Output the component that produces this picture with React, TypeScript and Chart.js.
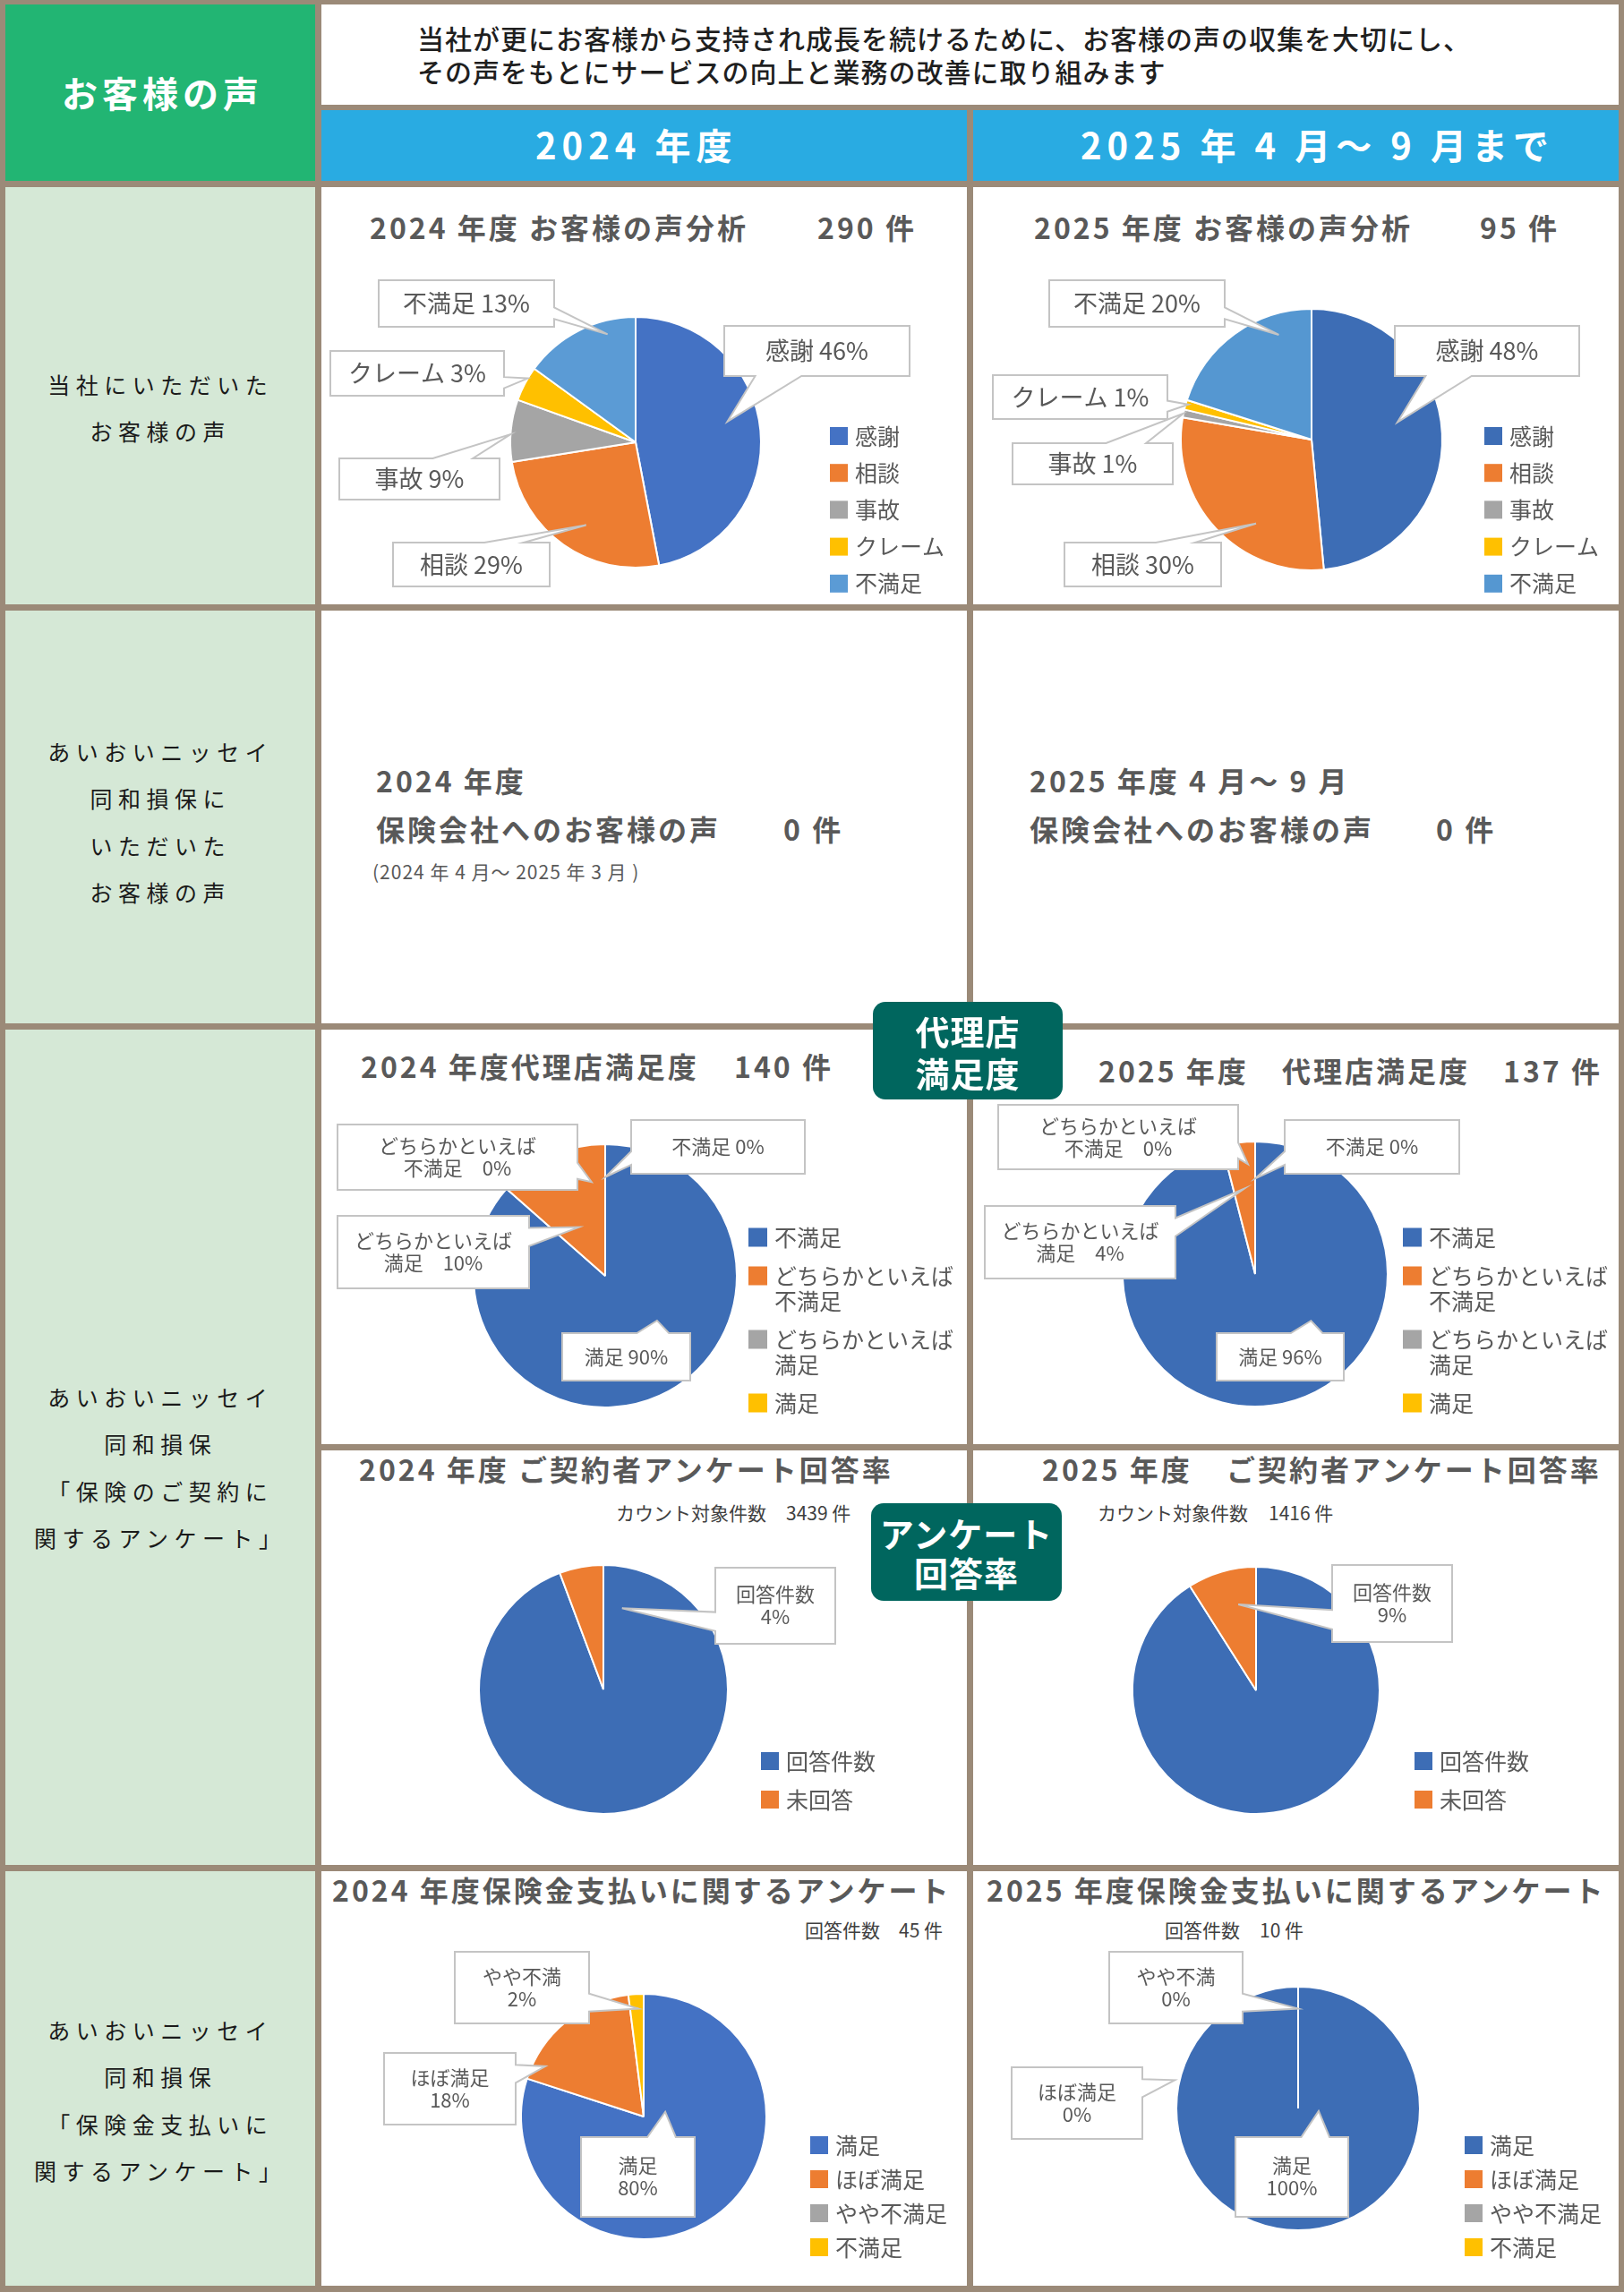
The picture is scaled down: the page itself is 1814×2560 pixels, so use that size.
import React, { useEffect, useRef } from "react";
import { Chart, registerables } from "chart.js";
Chart.register(...registerables);

const FONT = '"Noto Sans CJK JP", "Noto Sans CJK SC", sans-serif';

// ---------------- DATA ----------------
const voiceLabels = ["感謝", "相談", "事故", "クレーム", "不満足"];
const voice2024 = [47, 25.5, 8, 4.5, 15];
const voice2025 = [48.5, 29.2, 1, 1.2, 20.1];
const voice2024Notes = ["感謝 46%", "相談 29%", "事故 9%", "クレーム 3%", "不満足 13%"];
const voice2025Notes = ["感謝 48%", "相談 30%", "事故 1%", "クレーム 1%", "不満足 20%"];

const agencyLabels = ["不満足", "どちらかといえば不満足", "どちらかといえば満足", "満足"];
const agency2024 = [86.5, 13.5, 0, 0];
const agency2025 = [96, 4, 0, 0];
const agency2024Notes = ["満足 90%", "どちらかといえば\n満足　10%", "どちらかといえば\n不満足　0%", "不満足 0%"];
const agency2025Notes = ["満足 96%", "どちらかといえば\n満足　4%", "どちらかといえば\n不満足　0%", "不満足 0%"];

const surveyLabels = ["回答件数", "未回答"];
const survey2024 = [94.3, 5.7];
const survey2025 = [91, 9];
const survey2024Notes = ["回答件数\n4%"];
const survey2025Notes = ["回答件数\n9%"];

const payLabels = ["満足", "ほぼ満足", "やや不満足", "不満足"];
const pay2024 = [80, 18, 0, 2];
const pay2025 = [100, 0, 0, 0];
const pay2024Notes = ["やや不満\n2%", "ほぼ満足\n18%", "満足\n80%"];
const pay2025Notes = ["やや不満\n0%", "ほぼ満足\n0%", "満足\n100%"];

// ---------------- STYLE / LAYOUT ----------------
const C1 = ["#4472c4", "#ed7d31", "#a5a5a5", "#ffc000", "#5b9bd5"];
const C2 = ["#3d6db5", "#ed7d31", "#a5a5a5", "#ffc000", "#5597d1"];
const C4 = ["#3d6db5", "#ed7d31", "#a5a5a5", "#ffc000"];
const C4b = ["#4472c4", "#ed7d31", "#a5a5a5", "#ffc000"];

type NoteLayout = { box: number[]; idx: number; t: number; rf: number };
type PieSpec = {
  cell: number[];
  cx: number; cy: number; r: number;
  labels: string[]; values: number[]; colors: string[];
  notes: string[]; noteLayout: NoteLayout[]; noteFont: number; noteLine: number;
  legend: { x: number; y: number; step: number; lineH: number; font: number; maxW: number; sq: number };
};

const COLX = [359, 1087];
const CW = 721;

const specs: PieSpec[] = [
  {
    cell: [COLX[0], 209, CW, 466], cx: 710, cy: 494, r: 140,
    labels: voiceLabels, values: voice2024, colors: C1, notes: voice2024Notes,
    noteLayout: [
      { box: [809, 364, 1016, 420], idx: 0, t: 0.457, rf: 0.75 },
      { box: [439, 606, 614, 655], idx: 1, t: 0.454, rf: 0.77 },
      { box: [379, 512, 558, 558], idx: 2, t: 0.44, rf: 1.0 },
      { box: [369, 392, 563, 442], idx: 3, t: 0.67, rf: 1.0 },
      { box: [423, 313, 619, 365], idx: 4, t: 0.73, rf: 0.89 },
    ],
    noteFont: 27, noteLine: 30,
    legend: { x: 927, y: 487, step: 41.2, lineH: 28, font: 25, maxW: 200, sq: 20 },
  },
  {
    cell: [COLX[1], 209, CW, 466], cx: 1465, cy: 491, r: 146,
    labels: voiceLabels, values: voice2025, colors: C2, notes: voice2025Notes,
    noteLayout: [
      { box: [1558, 364, 1764, 420], idx: 0, t: 0.45, rf: 0.67 },
      { box: [1189, 606, 1364, 655], idx: 1, t: 0.37, rf: 0.77 },
      { box: [1131, 495, 1310, 541], idx: 2, t: 0.5, rf: 1.0 },
      { box: [1109, 419, 1304, 468], idx: 3, t: 0.6, rf: 0.98 },
      { box: [1172, 313, 1368, 365], idx: 4, t: 0.76, rf: 0.84 },
    ],
    noteFont: 27, noteLine: 30,
    legend: { x: 1658, y: 487, step: 41.2, lineH: 28, font: 25, maxW: 200, sq: 20 },
  },
  {
    cell: [COLX[0], 1150, CW, 463], cx: 676, cy: 1425, r: 147,
    labels: agencyLabels, values: agency2024, colors: C4, notes: agency2024Notes,
    noteLayout: [
      { box: [628, 1489, 771, 1542], idx: 0, t: 0.42, rf: 0.52 },
      { box: [377, 1358, 591, 1439], idx: 1, t: 0.42, rf: 0.42 },
      { box: [377, 1256, 645, 1329], idx: 1, t: 0.83, rf: 0.72 },
      { box: [705, 1251, 899, 1311], idx: 3, t: 0, rf: 0.75 },
    ],
    noteFont: 22, noteLine: 25,
    legend: { x: 836, y: 1382, step: 43, lineH: 28, font: 25, maxW: 205, sq: 21 },
  },
  {
    cell: [COLX[1], 1150, CW, 463], cx: 1402, cy: 1423, r: 148,
    labels: agencyLabels, values: agency2025, colors: C4, notes: agency2025Notes,
    noteLayout: [
      { box: [1359, 1489, 1501, 1542], idx: 0, t: 0.376, rf: 0.55 },
      { box: [1100, 1347, 1313, 1428], idx: 1, t: 0.5, rf: 0.65 },
      { box: [1115, 1234, 1383, 1306], idx: 1, t: 0.74, rf: 0.83 },
      { box: [1435, 1251, 1630, 1311], idx: 3, t: 0, rf: 0.72 },
    ],
    noteFont: 22, noteLine: 25,
    legend: { x: 1567, y: 1382, step: 43, lineH: 28, font: 25, maxW: 205, sq: 21 },
  },
  {
    cell: [COLX[0], 1620, CW, 463], cx: 674, cy: 1887, r: 139,
    labels: surveyLabels, values: survey2024, colors: C4, notes: survey2024Notes,
    noteLayout: [{ box: [799, 1751, 933, 1836], idx: 0, t: 0.038, rf: 0.67 }],
    noteFont: 22, noteLine: 25,
    legend: { x: 850, y: 1967, step: 43, lineH: 28, font: 25, maxW: 200, sq: 20 },
  },
  {
    cell: [COLX[1], 1620, CW, 463], cx: 1403, cy: 1888, r: 138,
    labels: surveyLabels, values: survey2025, colors: C4, notes: survey2025Notes,
    noteLayout: [{ box: [1488, 1748, 1622, 1834], idx: 1, t: 0.64, rf: 0.71 }],
    noteFont: 22, noteLine: 25,
    legend: { x: 1580, y: 1967, step: 43, lineH: 28, font: 25, maxW: 200, sq: 20 },
  },
  {
    cell: [COLX[0], 2090, CW, 463], cx: 719, cy: 2364, r: 137,
    labels: payLabels, values: pay2024, colors: C4b, notes: pay2024Notes,
    noteLayout: [
      { box: [508, 2180, 658, 2260], idx: 3, t: 0.62, rf: 0.88 },
      { box: [429, 2293, 576, 2373], idx: 1, t: 0.14, rf: 0.9 },
      { box: [649, 2387, 776, 2476], idx: 0, t: 0.27, rf: 0.18 },
    ],
    noteFont: 22, noteLine: 25,
    legend: { x: 905, y: 2396, step: 38, lineH: 28, font: 25, maxW: 200, sq: 20 },
  },
  {
    cell: [COLX[1], 2090, CW, 463], cx: 1450, cy: 2355, r: 136,
    labels: payLabels, values: pay2025, colors: C4, notes: pay2025Notes,
    noteLayout: [
      { box: [1239, 2180, 1388, 2260], idx: 2, t: 0, rf: 0.82 },
      { box: [1130, 2309, 1276, 2389], idx: 0, t: 0.786, rf: 1.04 },
      { box: [1380, 2387, 1506, 2476], idx: 0, t: 0.27, rf: 0.17 },
    ],
    noteFont: 22, noteLine: 25,
    legend: { x: 1636, y: 2396, step: 38, lineH: 28, font: 25, maxW: 200, sq: 20 },
  },
];

function drawCallout(ctx: CanvasRenderingContext2D, x: number, y: number, w: number, h: number, tx: number, ty: number) {
  const hc = x + w / 2, vc = y + h / 2;
  const dx = tx - hc, dy = ty - vc;
  const dq = (dx * h) / w;
  const inside = Math.abs(dx) <= w / 2 && Math.abs(dy) <= h / 2;
  const vert = Math.abs(dy) > Math.abs(dq);
  const x1 = x + (w * (dx > 0 ? 7 : 2)) / 12, x2 = x + (w * (dx > 0 ? 10 : 5)) / 12;
  const y1 = y + (h * (dy > 0 ? 7 : 2)) / 12, y2 = y + (h * (dy > 0 ? 10 : 5)) / 12;
  ctx.beginPath();
  ctx.moveTo(x, y);
  if (!inside && vert && dy < 0) { ctx.lineTo(x1, y); ctx.lineTo(tx, ty); ctx.lineTo(x2, y); }
  ctx.lineTo(x + w, y);
  if (!inside && !vert && dx > 0) { ctx.lineTo(x + w, y1); ctx.lineTo(tx, ty); ctx.lineTo(x + w, y2); }
  ctx.lineTo(x + w, y + h);
  if (!inside && vert && dy > 0) { ctx.lineTo(x2, y + h); ctx.lineTo(tx, ty); ctx.lineTo(x1, y + h); }
  ctx.lineTo(x, y + h);
  if (!inside && !vert && dx < 0) { ctx.lineTo(x, y2); ctx.lineTo(tx, ty); ctx.lineTo(x, y1); }
  ctx.closePath();
  ctx.fillStyle = "#ffffff";
  ctx.fill();
  ctx.lineWidth = 2;
  ctx.strokeStyle = "#c4c4c4";
  ctx.lineJoin = "miter";
  ctx.stroke();
}

function wrapText(ctx: CanvasRenderingContext2D, text: string, maxW: number): string[] {
  const out: string[] = [];
  let cur = "";
  for (const ch of Array.from(text)) {
    if (cur && ctx.measureText(cur + ch).width > maxW) { out.push(cur); cur = ch; }
    else cur += ch;
  }
  if (cur) out.push(cur);
  return out;
}

function overlayPlugin(spec: PieSpec) {
  return {
    id: "overlay",
    afterDraw(chart: any) {
      const ctx: CanvasRenderingContext2D = chart.ctx;
      const meta = chart.getDatasetMeta(0);
      const x0 = spec.cell[0], y0 = spec.cell[1];
      ctx.save();
      spec.notes.forEach((text, i) => {
        const L = spec.noteLayout[i];
        const arc = meta.data[L.idx];
        const p = arc.getProps(["x", "y", "startAngle", "endAngle", "outerRadius"], true);
        const a = p.startAngle + L.t * (p.endAngle - p.startAngle);
        const tx = p.x + Math.cos(a) * p.outerRadius * L.rf;
        const ty = p.y + Math.sin(a) * p.outerRadius * L.rf;
        const bx = L.box[0] - x0, by = L.box[1] - y0;
        const bw = L.box[2] - L.box[0], bh = L.box[3] - L.box[1];
        drawCallout(ctx, bx, by, bw, bh, tx, ty);
        ctx.fillStyle = "#595959";
        ctx.font = `${spec.noteFont}px ${FONT}`;
        ctx.textAlign = "center";
        ctx.textBaseline = "middle";
        const lines = text.split("\n");
        lines.forEach((ln, k) => {
          ctx.fillText(ln, bx + bw / 2, by + bh / 2 + (k - (lines.length - 1) / 2) * spec.noteLine);
        });
      });
      const lg = spec.legend;
      const colors = chart.data.datasets[0].backgroundColor as string[];
      ctx.font = `${lg.font}px ${FONT}`;
      ctx.textAlign = "left";
      ctx.textBaseline = "middle";
      let yy = lg.y - y0;
      const lx = lg.x - x0;
      (chart.data.labels as string[]).forEach((lab, i) => {
        const lines = wrapText(ctx, lab, lg.maxW);
        ctx.fillStyle = colors[i];
        ctx.fillRect(lx, yy - lg.sq / 2, lg.sq, lg.sq);
        ctx.fillStyle = "#595959";
        lines.forEach((ln, k) => ctx.fillText(ln, lx + lg.sq + 8, yy + k * lg.lineH));
        yy += lg.step + (lines.length - 1) * lg.lineH;
      });
      ctx.restore();
    },
  };
}

function PieCell({ spec }: { spec: PieSpec }) {
  const ref = useRef<HTMLCanvasElement>(null);
  const [x0, y0, w, h] = spec.cell;
  useEffect(() => {
    const cxr = spec.cx - x0, cyr = spec.cy - y0;
    const chart = new Chart(ref.current as HTMLCanvasElement, {
      type: "pie",
      data: {
        labels: spec.labels,
        datasets: [
          {
            data: spec.values,
            backgroundColor: spec.colors,
            borderColor: "#ffffff",
            borderWidth: 2,
            radius: spec.r,
            clip: false,
          } as any,
        ],
      },
      options: {
        responsive: false,
        animation: false,
        events: [],
        layout: { padding: { left: cxr - 10, right: w - cxr - 10, top: cyr - 10, bottom: h - cyr - 10 } },
        plugins: { legend: { display: false }, tooltip: { enabled: false }, title: { display: false } },
      } as any,
      plugins: [overlayPlugin(spec) as any],
    });
    return () => chart.destroy();
  }, []);
  return (
    <canvas ref={ref} width={w} height={h}
      style={{ position: "absolute", left: x0, top: y0, width: w, height: h }} />
  );
}

type TP = { x: number; cy: number; size: number; text: string; weight?: number; color?: string; ls?: number; lh?: number; w?: number; align?: any };
// cy = centre of the first line
function T({ x, cy, size, text, weight = 700, color = "#595959", ls = 0, lh, w, align }: TP) {
  const L = lh || Math.round(size * 1.4);
  return (
    <div style={{
      position: "absolute", left: x, top: cy - L / 2 - size * 0.05, width: w, textAlign: align || "left",
      fontFamily: FONT, fontSize: size, fontWeight: weight, color, letterSpacing: ls, lineHeight: L + "px",
      whiteSpace: "pre", paddingLeft: align === "center" ? ls : 0, boxSizing: "border-box",
    }}>{text}</div>
  );
}

function Box({ x, y, w, h, bg }: { x: number; y: number; w: number; h: number; bg: string }) {
  return <div style={{ position: "absolute", left: x, top: y, width: w, height: h, background: bg }} />;
}

function Badge({ x, y, w, h, lines, lh }: { x: number; y: number; w: number; h: number; lines: string[]; lh: number }) {
  return (
    <div style={{
      position: "absolute", left: x, top: y, width: w, height: h, background: "#00665e", borderRadius: 14,
      display: "flex", flexDirection: "column", alignItems: "center", justifyContent: "center",
      color: "#ffffff", fontFamily: FONT, fontWeight: 700, fontSize: 38, lineHeight: lh + "px", letterSpacing: 1,
    }}>
      {lines.map((l, i) => <div key={i}>{l}</div>)}
    </div>
  );
}

const LEFT_GREEN = "#d5e8d6";

export default function App() {
  useEffect(() => {
    document.body.style.margin = "0";
  }, []);
  const leftText = (lines: string[], cy: number) => (
    <T x={0} w={352} cy={cy} size={25} weight={400} color="#1a1a1a" ls={6.5}
      lh={52.5} align="center" text={lines.join("\n")} />
  );
  return (
    <div style={{ position: "relative", width: 1814, height: 2560, background: "#9b8a78", overflow: "hidden" }}>
      {/* header */}
      <Box x={6} y={5} w={346} h={197} bg="#22b573" />
      <Box x={359} y={5} w={1449} h={112} bg="#ffffff" />
      <Box x={359} y={123} w={721} h={79} bg="#29abe2" />
      <Box x={1087} y={123} w={721} h={79} bg="#29abe2" />
      <T x={6} w={346} cy={105} size={40} color="#ffffff" ls={5} align="center" text="お客様の声" />
      <T x={466} cy={43} size={30} weight={500} color="#1f1f1f" ls={1} text="当社が更にお客様から支持され成長を続けるために、お客様の声の収集を大切にし、" />
      <T x={466} cy={80} size={30} weight={500} color="#1f1f1f" ls={1} text="その声をもとにサービスの向上と業務の改善に取り組みます" />
      <T x={598} cy={163} size={40} color="#ffffff" ls={6} text="2024 年度" />
      <T x={1207} cy={163} size={40} color="#ffffff" ls={6} text="2025 年 4 月～ 9 月まで" />

      {/* left column */}
      <Box x={6} y={209} w={346} h={466} bg={LEFT_GREEN} />
      <Box x={6} y={682} w={346} h={461} bg={LEFT_GREEN} />
      <Box x={6} y={1150} w={346} h={933} bg={LEFT_GREEN} />
      <Box x={6} y={2090} w={346} h={463} bg={LEFT_GREEN} />
      {leftText(["当社にいただいた", "お客様の声"], 430)}
      {leftText(["あいおいニッセイ", "同和損保に", "いただいた", "お客様の声"], 840)}
      {leftText(["あいおいニッセイ", "同和損保", "「保険のご契約に", "関するアンケート」"], 1561)}
      {leftText(["あいおいニッセイ", "同和損保", "「保険金支払いに", "関するアンケート」"], 2268)}

      {/* white cells */}
      {[209, 682, 1150, 1620, 2090].map((y, i) => {
        const h = [466, 461, 463, 463, 463][i];
        return (
          <React.Fragment key={y}>
            <Box x={359} y={y} w={721} h={h} bg="#ffffff" />
            <Box x={1087} y={y} w={721} h={h} bg="#ffffff" />
          </React.Fragment>
        );
      })}

      {/* row 2 text */}
      <T x={420} cy={873} size={32} ls={3} text="2024 年度" />
      <T x={420} cy={927} size={32} ls={3} text="保険会社へのお客様の声" />
      <T x={875} cy={927} size={32} ls={3} text="0 件" />
      <T x={416} cy={975} size={21} weight={400} ls={1} text="(2024 年 4 月～ 2025 年 3 月 )" />
      <T x={1150} cy={873} size={32} ls={3} text="2025 年度 4 月～ 9 月" />
      <T x={1150} cy={927} size={32} ls={3} text="保険会社へのお客様の声" />
      <T x={1604} cy={927} size={32} ls={3} text="0 件" />

      {/* chart titles */}
      <T x={413} cy={255} size={32} ls={3} text="2024 年度 お客様の声分析" />
      <T x={913} cy={255} size={32} ls={3} text="290 件" />
      <T x={1155} cy={255} size={32} ls={3} text="2025 年度 お客様の声分析" />
      <T x={1653} cy={255} size={32} ls={3} text="95 件" />
      <T x={403} cy={1192} size={32} ls={3} text="2024 年度代理店満足度" />
      <T x={820} cy={1192} size={32} ls={3} text="140 件" />
      <T x={1227} cy={1197} size={32} ls={3} text="2025 年度" />
      <T x={1432} cy={1197} size={32} ls={3} text="代理店満足度" />
      <T x={1679} cy={1197} size={32} ls={3} text="137 件" />
      <T x={401} cy={1642} size={32} ls={3} text="2024 年度 ご契約者アンケート回答率" />
      <T x={1164} cy={1642} size={32} ls={3} text="2025 年度" />
      <T x={1370} cy={1642} size={32} ls={3} text="ご契約者アンケート回答率" />
      <T x={371} cy={2112} size={32} ls={3} text="2024 年度保険金支払いに関するアンケート" />
      <T x={1102} cy={2112} size={32} ls={3} text="2025 年度保険金支払いに関するアンケート" />

      {/* subtitles */}
      <T x={688} cy={1691} size={21} weight={400} color="#404040" text="カウント対象件数" />
      <T x={878} cy={1691} size={21} weight={400} color="#404040" text="3439 件" />
      <T x={1226} cy={1691} size={21} weight={400} color="#404040" text="カウント対象件数" />
      <T x={1417} cy={1691} size={21} weight={400} color="#404040" text="1416 件" />
      <T x={899} cy={2157} size={21} weight={400} color="#404040" text="回答件数" />
      <T x={1004} cy={2157} size={21} weight={400} color="#404040" text="45 件" />
      <T x={1301} cy={2157} size={21} weight={400} color="#404040" text="回答件数" />
      <T x={1407} cy={2157} size={21} weight={400} color="#404040" text="10 件" />

      {specs.map((s, i) => <PieCell key={i} spec={s} />)}

      <Badge x={975} y={1119} w={212} h={109} lines={["代理店", "満足度"]} lh={47} />
      <Badge x={973} y={1679} w={213} h={109} lines={["アンケート", "回答率"]} lh={44} />
    </div>
  );
}
